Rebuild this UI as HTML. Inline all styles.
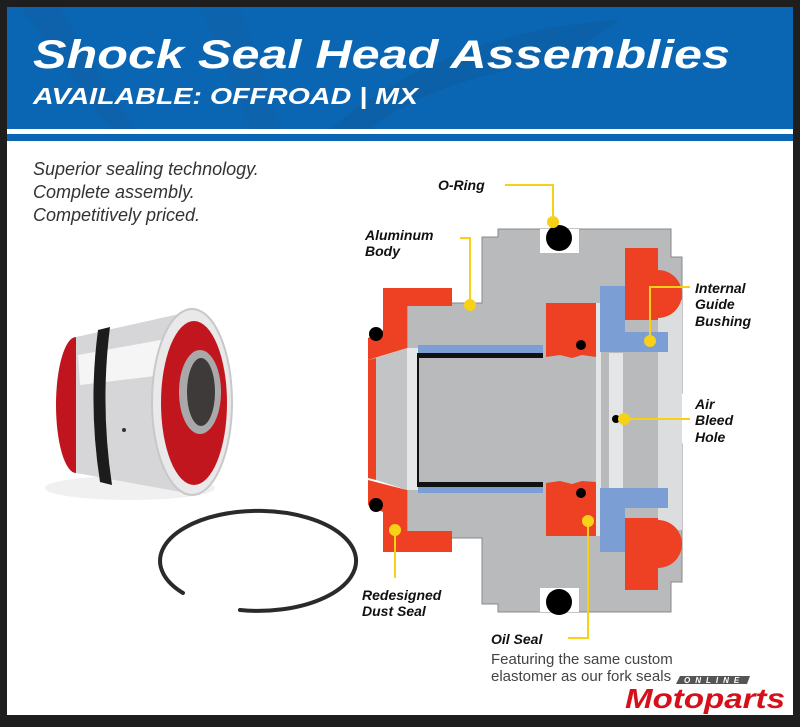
<!DOCTYPE html>
<html><head><meta charset="utf-8"><style>
html,body{margin:0;padding:0;background:#1e1e1e;}
svg{display:block}
</style></head><body>
<svg width="800" height="727" viewBox="0 0 800 727" xmlns="http://www.w3.org/2000/svg" font-family="Liberation Sans, sans-serif">
<rect x="0" y="0" width="800" height="727" fill="#1e1e1e"/>
<rect x="7" y="7" width="786" height="708" fill="#ffffff"/>
<!-- header -->
<rect x="7" y="7" width="786" height="122" fill="#0a66b3"/>
<path d="M20 7 Q60 60 110 129 L135 129 Q90 60 60 7Z" fill="#0f5fa5" opacity="0.6"/>
<path d="M200 7 Q230 70 250 129 L280 129 Q260 60 240 7Z" fill="#0f5fa5" opacity="0.5"/>
<path d="M330 129 Q450 30 620 20 L560 60 Q430 80 370 129Z" fill="#0c5a9c" opacity="0.5"/>
<rect x="7" y="129" width="786" height="5" fill="#ffffff"/>
<rect x="7" y="134" width="786" height="7" fill="#0a66b3"/>
<text x="33" y="68" fill="#fff" font-size="40" font-weight="bold" font-style="italic" textLength="697" lengthAdjust="spacingAndGlyphs">Shock Seal Head Assemblies</text>
<text x="33" y="104" fill="#fff" font-size="23" font-weight="bold" font-style="italic" textLength="385" lengthAdjust="spacingAndGlyphs">AVAILABLE: OFFROAD | MX</text>
<!-- intro -->
<g fill="#333" font-size="18" font-style="italic">
<text x="33" y="175">Superior sealing technology.</text>
<text x="33" y="198">Complete assembly.</text>
<text x="33" y="221">Competitively priced.</text>
</g>
<!-- photo -->
<ellipse cx="130" cy="488" rx="85" ry="12" fill="#f0f0f0"/>
<ellipse cx="76" cy="405" rx="20" ry="68" fill="#c0151e"/>
<path d="M76 337 L188 312 L192 494 L76 473Z" fill="#d6d6d8"/>
<path d="M78 355 L188 335 L188 372 L80 385Z" fill="#f5f5f5"/>
<path d="M98 330 Q88 405 100 482 L112 485 Q100 405 110 327 Z" fill="#1c1c1c"/>
<ellipse cx="192" cy="402" rx="40" ry="93" fill="#e9e9ea" stroke="#c8c8ca" stroke-width="2"/>
<ellipse cx="194" cy="403" rx="33" ry="82" fill="#c2161f"/>
<ellipse cx="200" cy="392" rx="21" ry="42" fill="#a9a9ab"/>
<ellipse cx="201" cy="392" rx="14" ry="34" fill="#3e3a3a"/>
<circle cx="124" cy="430" r="2" fill="#333"/>
<path d="M240 610 A98 50 0 1 0 183 593" fill="none" stroke="#2a2a2a" stroke-width="4" stroke-linecap="round"/>
<!-- diagram body -->
<polygon points="498,229 671,229 671,257 682,257 682,393 668,393 668,444 682,444 682,582 671,582 671,612 498,612 498,604 482,604 482,538 407,538 407,303 482,303 482,237 498,237" fill="#b9babc" stroke="#888" stroke-width="1"/>
<rect x="658" y="300" width="24" height="230" fill="#dcdddf"/>
<rect x="609" y="353" width="14" height="135" fill="#e4e5e6"/>
<rect x="596" y="303" width="5" height="233" fill="#e4e5e6"/>
<rect x="540" y="229" width="39" height="24" fill="#fff"/>
<rect x="540" y="588" width="39" height="24" fill="#fff"/>
<circle cx="559" cy="238" r="13" fill="#000"/>
<circle cx="559" cy="602" r="13" fill="#000"/>
<polygon points="376,358 407,348 407,490 376,480" fill="#c3c4c6"/>
<rect x="407" y="348" width="11" height="142" fill="#e6e7e8"/>
<rect x="418" y="345" width="125" height="148" fill="#b9babc"/>
<rect x="418" y="345" width="125" height="8" fill="#7b9fd4"/>
<rect x="418" y="353" width="125" height="5" fill="#111"/>
<rect x="418" y="482" width="125" height="5" fill="#111"/>
<rect x="418" y="487" width="125" height="6" fill="#7b9fd4"/>
<rect x="417" y="353" width="2" height="134" fill="#111"/>
<g fill="#ee4023">
<polygon points="383,288 452,288 452,306 407,306 407,348 368,360 368,338 383,330"/>
<polygon points="368,360 376,358 376,480 368,478"/>
<polygon points="368,480 407,490 407,531 452,531 452,552 383,552 383,512 368,505"/>
<polygon points="546,303 596,303 596,357 582,355 572,358 560,355 546,357"/>
<polygon points="546,483 560,481 572,484 582,481 596,482 596,536 546,536"/>
<path d="M625 248 H658 V270 A24 24 0 0 1 658 318 V320 H625Z"/>
<path d="M625 518 H658 V520 A24 24 0 0 1 658 568 V590 H625Z"/>
</g>
<circle cx="376" cy="334" r="7" fill="#000"/>
<circle cx="376" cy="505" r="7" fill="#000"/>
<circle cx="581" cy="345" r="5" fill="#000"/>
<circle cx="581" cy="493" r="5" fill="#000"/>
<g fill="#7b9fd4">
<polygon points="600,286 625,286 625,332 668,332 668,352 600,352"/>
<polygon points="600,488 668,488 668,508 625,508 625,552 600,552"/>
</g>
<circle cx="616" cy="419" r="4" fill="#000"/>
<g stroke="#f7d117" stroke-width="2" fill="none">
<polyline points="505,185 553,185 553,222"/>
<polyline points="460,238 470,238 470,305"/>
<polyline points="690,287 650,287 650,341"/>
<line x1="624" y1="419" x2="690" y2="419"/>
<line x1="395" y1="530" x2="395" y2="578"/>
<polyline points="568,638 588,638 588,521"/>
</g>
<g fill="#f7d117">
<circle cx="553" cy="222" r="6"/><circle cx="470" cy="305" r="6"/><circle cx="650" cy="341" r="6"/>
<circle cx="624" cy="419" r="6"/><circle cx="395" cy="530" r="6"/><circle cx="588" cy="521" r="6"/>
</g>
<g fill="#111" font-size="14" font-weight="bold" font-style="italic">
<text x="438" y="190">O-Ring</text>
<text x="365" y="240">Aluminum</text><text x="365" y="256">Body</text>
<text x="695" y="293">Internal</text><text x="695" y="309">Guide</text><text x="695" y="326">Bushing</text>
<text x="695" y="409">Air</text><text x="695" y="425">Bleed</text><text x="695" y="442">Hole</text>
<text x="362" y="600">Redesigned</text><text x="362" y="616">Dust Seal</text>
<text x="491" y="644">Oil Seal</text>
</g>
<g fill="#444" font-size="15">
<text x="491" y="664">Featuring the same custom</text>
<text x="491" y="681">elastomer as our fork seals</text>
</g>
<polygon points="680,676 750,676 747,684 676,684" fill="#555"/>
<text x="684" y="683" fill="#fff" font-size="8" font-weight="bold" font-style="italic" letter-spacing="5">ONLINE</text>
<text x="625" y="708" fill="#d5101a" font-size="28" font-weight="bold" font-style="italic" textLength="160" lengthAdjust="spacingAndGlyphs">Motoparts</text>
</svg>
</body></html>
